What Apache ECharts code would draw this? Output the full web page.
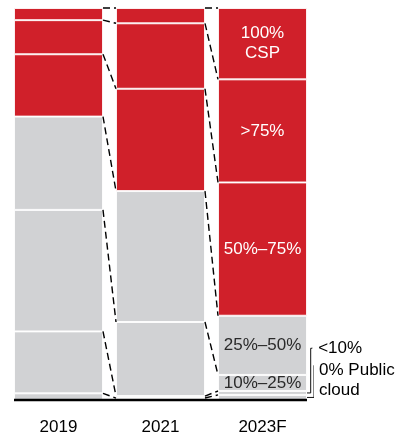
<!DOCTYPE html>
<html><head><meta charset="utf-8">
<script src="https://cdn.jsdelivr.net/npm/echarts@6/dist/echarts.min.js"></script>
<style>html,body{margin:0;padding:0;background:#fff}#c{width:404px;height:437px}</style>
</head><body><div id="c"></div>
<script>
// ---- data ----
const years = ['2019', '2021', '2023F'];
const segmentNames = ['0% Public cloud', '<10%', '10%–25%', '25%–50%', '50%–75%', '>75%', '100% CSP'];
const share0 = [1.7, 0.5, 1.3];        // 0% Public cloud
const shareLt10 = [15.8, 0.5, 1.0];    // <10%
const share10to25 = [31.0, 18.9, 4.1];
const share25to50 = [23.8, 33.4, 15.1];
const share50to75 = [15.9, 26.1, 34.0];
const shareGt75 = [8.7, 16.7, 26.3];
const share100 = [3.1, 3.9, 18.2];     // 100% CSP
const insideLabels = ['', '', '10%–25%', '25%–50%', '50%–75%', '>75%', '100%\nCSP'];
const sideLabels = ['<10%', '0% Public\ncloud'];

// ---- build ----
const FF = "'Liberation Sans', Arial, Helvetica, sans-serif";
const RED = '#D0202A', GRAY = '#D1D2D4';
const shares = [share0, shareLt10, share10to25, share25to50, share50to75, shareGt75, share100];
const colors = [GRAY, GRAY, GRAY, GRAY, RED, RED, RED];
const BAR_W = 89, BAND = 102;
const HW = (BAR_W / 2) / BAND;
const FS = 17;

const series = [];
shares.forEach((arr, k) => {
  series.push({
    type: 'bar', name: segmentNames[k], stack: 'total', barWidth: BAR_W,
    xAxisIndex: 0, yAxisIndex: 0, z: 2,
    itemStyle: { color: colors[k], borderColor: 'rgba(255,255,255,0.85)', borderWidth: 1 },
    data: arr.map((v, i) => ({
      value: v,
      label: (i === years.length - 1 && insideLabels[k]) ? {
        show: true, position: 'inside', formatter: insideLabels[k],
        color: k >= 4 ? '#ffffff' : '#2a2a2a', fontSize: FS, lineHeight: 20, fontFamily: FF
      } : { show: false }
    }))
  });
});

// cumulative boundaries
const cum = years.map((_, i) => {
  const out = [0];
  let s = 0;
  shares.forEach(arr => { s += arr[i]; out.push(s); });
  return out;
});

// dashed connectors between bars
for (let b = 0; b < cum[0].length; b++) {
  for (let i = 0; i < years.length - 1; i++) {
    series.push({
      type: 'line', xAxisIndex: 1, yAxisIndex: 0, symbol: 'none', silent: true, clip: false, z: 3,
      lineStyle: { type: [7, 4], width: 1.4, color: '#000' },
      data: [[i + HW, cum[i][b]], [i + 1 - HW, cum[i + 1][b]]]
    });
  }
}

// baseline
series.push({
  type: 'line', xAxisIndex: 1, yAxisIndex: 0, symbol: 'none', silent: true, clip: false, z: 5,
  lineStyle: { width: 2.6, color: '#000' },
  data: [[-HW, 0], [years.length - 1 + HW, 0]]
});

// side brackets for the two smallest 2023F segments
const last = years.length - 1;
const yLt10 = share0[last] + shareLt10[last] / 2;
const y0 = share0[last] / 2;
const br1x = 2.4725, br1top = 13.2, br1tick = 2.492;
const br2x = 2.505, br2top = 8.85, br2tick = 2.53;
series.push({
  type: 'line', xAxisIndex: 1, yAxisIndex: 0, symbol: 'none', silent: true, clip: false, z: 4,
  lineStyle: { width: 1, color: '#111' },
  data: [[last + HW, yLt10], [br1x, yLt10], [br1x, br1top], [br1tick, br1top]]
});
series.push({
  type: 'line', xAxisIndex: 1, yAxisIndex: 0, symbol: 'none', silent: true, clip: false, z: 4,
  lineStyle: { width: 1, color: '#111' },
  data: [[last + HW, y0], [br2x, y0], [br2x, br2top], [br2tick, br2top]]
});
series.push({
  type: 'scatter', xAxisIndex: 1, yAxisIndex: 0, symbolSize: 1, silent: true, clip: false, z: 6,
  itemStyle: { color: '#ffffff', opacity: 1 },
  emphasis: { disabled: true },
  label: { show: true, position: 'right', color: '#000', fontSize: FS, lineHeight: 20, fontFamily: FF },
  data: [
    { value: [br1tick, br1top], label: { formatter: sideLabels[0], distance: 5, color: '#000' } },
    { value: [br2tick, br2top], label: { formatter: sideLabels[1], distance: 2, offset: [0, 15], color: '#000' } }
  ]
});

const chart = echarts.init(document.getElementById('c'), null, { renderer: 'canvas' });
chart.setOption({
  animation: false,
  backgroundColor: '#fff',
  grid: { left: 7.5, right: 90.5, top: 8, bottom: 37, containLabel: false },
  xAxis: [
    {
      type: 'category', data: years, boundaryGap: true,
      axisLine: { show: false }, axisTick: { show: false },
      axisLabel: { color: '#000', fontSize: FS, fontFamily: FF, margin: 19 }
    },
    { type: 'value', min: -0.5, max: 2.5, show: false }
  ],
  yAxis: { type: 'value', min: 0, max: 100, show: false },
  series: series
});
</script>
</body></html>
